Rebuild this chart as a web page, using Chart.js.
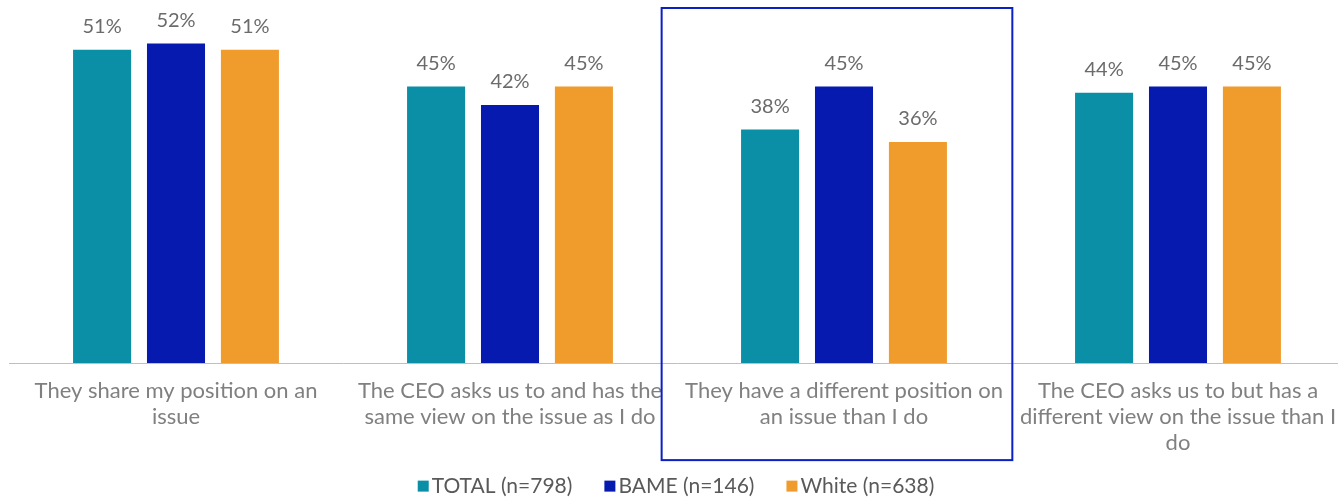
<!DOCTYPE html>
<html>
<head>
<meta charset="utf-8">
<script src="https://cdn.jsdelivr.net/npm/chart.js@4/dist/chart.umd.min.js"></script>
<style>
  html, body { margin: 0; padding: 0; background: #ffffff; overflow: hidden; }
  #wrap { width: 1352px; height: 497px; }
</style>
</head>
<body>
<div id="wrap"><canvas id="c" width="1352" height="497"></canvas></div>
<script>
// Reasons for supporting a CEO's stance, by respondent group (%)
const categories = [
  ['They share my position on an', 'issue'],
  ['The CEO asks us to and has the', 'same view on the issue as I do'],
  ['They have a different position on', 'an issue than I do'],
  ['The CEO asks us to but has a', 'different view on the issue than I', 'do']
];
const seriesNames = ['TOTAL (n=798)', 'BAME (n=146)', 'White (n=638)'];
const totalValues = [51, 45, 38, 44];
const bameValues  = [52, 42, 45, 45];
const whiteValues = [51, 45, 36, 45];
const seriesColors = ['#0a8fa7', '#061ab0', '#f09c2d'];
const highlightedCategory = 2;

const FONT = 'Lato, "Open Sans", sans-serif';

// Percent labels above every bar
const valueLabels = {
  id: 'valueLabels',
  afterDatasetsDraw(chart) {
    const ctx = chart.ctx;
    ctx.save();
    ctx.font = '20px ' + FONT;
    ctx.fillStyle = '#6b6b6b';
    ctx.textAlign = 'center';
    ctx.textBaseline = 'middle';
    chart.data.datasets.forEach((ds, i) => {
      chart.getDatasetMeta(i).data.forEach((bar, j) => {
        ctx.fillText(ds.data[j] + '%', bar.x, bar.y - 23);
      });
    });
    ctx.restore();
  }
};

// Frame drawn around the highlighted category
const highlightFrame = {
  id: 'highlightFrame',
  afterDraw(chart) {
    const x = chart.scales.x;
    const area = chart.chartArea;
    const step = (x.right - x.left) / categories.length;
    const cx = x.getPixelForValue(highlightedCategory);
    const left = cx - step * 0.546;
    const right = cx + step * 0.504;
    const top = 8;
    const bottom = area.bottom + 97;
    const ctx = chart.ctx;
    ctx.save();
    ctx.strokeStyle = '#0a1fc4';
    ctx.lineWidth = 2;
    ctx.strokeRect(left, top, right - left, bottom - top);
    ctx.restore();
  }
};

// Compact legend centred under the chart: small square, tight gap, label
const bottomLegend = {
  id: 'bottomLegend',
  afterDraw(chart) {
    const ctx = chart.ctx;
    const box = 11, gap = 3, itemGap = 32;
    ctx.save();
    ctx.font = '21px ' + FONT;
    const items = chart.data.datasets.map(ds => ({
      text: ds.label, color: ds.backgroundColor, w: ctx.measureText(ds.label).width
    }));
    const total = items.reduce((s, it) => s + box + gap + it.w, 0) + itemGap * (items.length - 1);
    let x = (chart.width - total) / 2;
    const y = chart.chartArea.bottom + 123;
    ctx.textBaseline = 'middle';
    ctx.textAlign = 'left';
    items.forEach(it => {
      ctx.fillStyle = it.color;
      ctx.fillRect(x, y - box / 2, box, box);
      ctx.fillStyle = '#595959';
      ctx.fillText(it.text, x + box + gap, y);
      x += box + gap + it.w + itemGap;
    });
    ctx.restore();
  }
};

new Chart(document.getElementById('c'), {
  type: 'bar',
  data: {
    labels: categories,
    datasets: [
      { label: seriesNames[0], data: totalValues, backgroundColor: seriesColors[0] },
      { label: seriesNames[1], data: bameValues,  backgroundColor: seriesColors[1] },
      { label: seriesNames[2], data: whiteValues, backgroundColor: seriesColors[2] }
    ]
  },
  options: {
    responsive: false,
    animation: false,
    devicePixelRatio: 1,
    categoryPercentage: 0.664,
    barPercentage: 0.785,
    layout: { padding: { left: 9, right: 7, top: 19, bottom: 34 } },
    scales: {
      y: { display: false, min: 0, max: 56 },
      x: {
        grid: { display: false },
        border: { color: '#bfbfbf', width: 1 },
        ticks: {
          color: '#808080',
          font: { family: FONT, size: 22, lineHeight: 1.18 },
          padding: 7,
          maxRotation: 0,
          autoSkip: false
        }
      }
    },
    plugins: {
      legend: { display: false },
      tooltip: { enabled: false }
    }
  },
  plugins: [valueLabels, highlightFrame, bottomLegend]
});
</script>
</body>
</html>
